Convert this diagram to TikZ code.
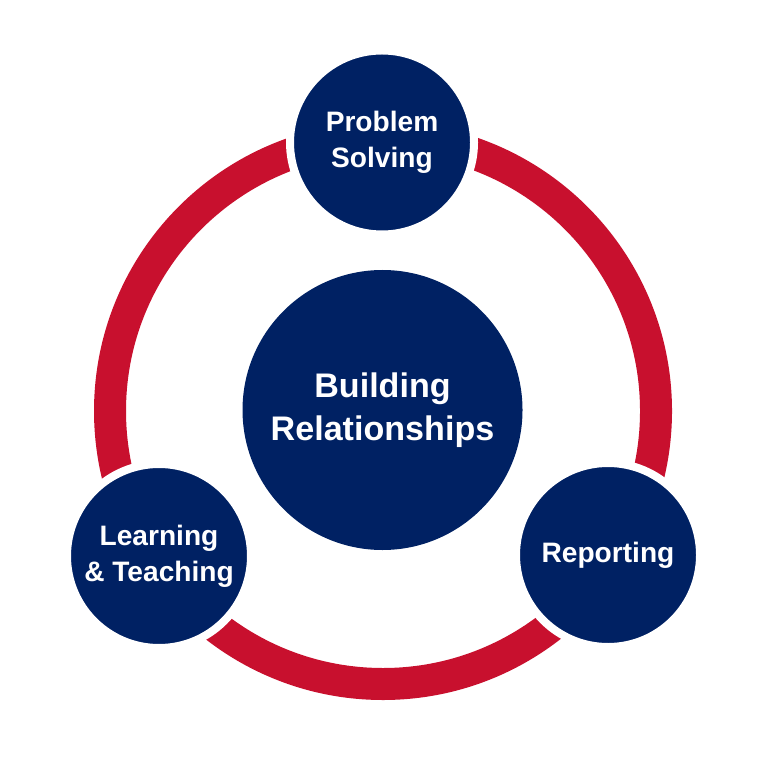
\documentclass[tikz,border=0pt]{standalone}
\usepackage{fontspec}
\setmainfont{Liberation Sans}
\definecolor{navy}{RGB}{0,33,99}
\definecolor{ringred}{RGB}{200,16,46}

\begin{document}
\begin{tikzpicture}[
  hub/.style={circle, fill=navy, text=white, inner sep=0pt, minimum size=2.8cm,
    align=center, font=\bfseries\fontsize{9.7}{12.2}\selectfont},
  spoke/.style={circle, fill=navy, draw=white, line width=0.08cm, text=white,
    inner sep=0pt, minimum size=1.84cm, align=center,
    font=\bfseries\fontsize{8}{10.2}\selectfont}]

\useasboundingbox (0,0) rectangle (7.63,-7.63);

% red ring behind the circles
\coordinate (ringc) at (3.83,-4.11);
\draw[ringred, line width=0.32cm] (ringc) circle (2.73);

\node[hub] (building) at (3.825,-4.10) {Building\\Relationships};
\node[spoke] (problem) at (3.82,-1.425) {Problem\\Solving};
\node[spoke] (learning) at (1.59,-5.56) {Learning\\\& Teaching};
\node[spoke] (reporting) at (6.08,-5.55) {Reporting};
\end{tikzpicture}
\end{document}
